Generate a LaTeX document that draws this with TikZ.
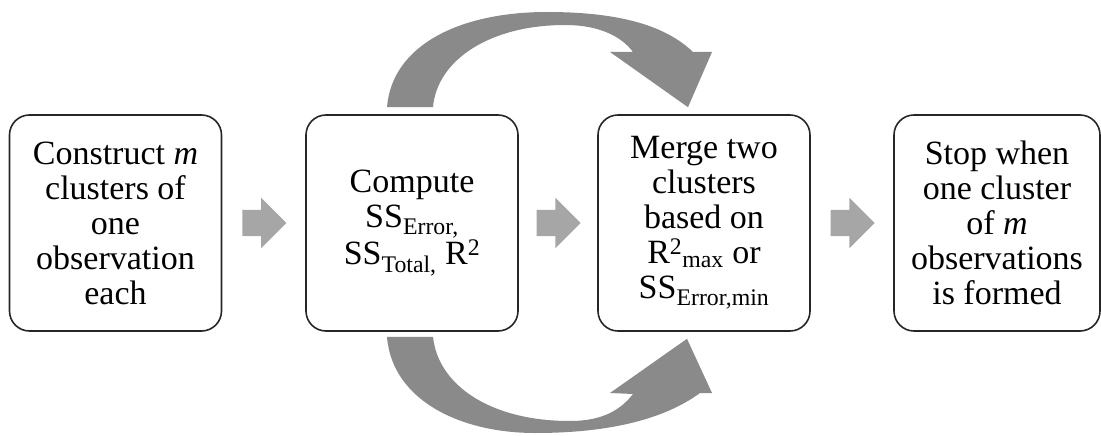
\documentclass[tikz,border=0pt]{standalone}
\usepackage{fontspec}
\setmainfont{Liberation Serif}
\usepackage{tikz}
\usetikzlibrary{shapes.arrows,calc}

\begin{document}
\begin{tikzpicture}[x=1pt, y=-1pt,
    stepbox/.style={draw=black!85, line width=1.6pt, rounded corners=20pt,
        minimum width=212pt, minimum height=216pt, inner sep=0pt,
        align=center, font=\fontsize{34}{35}\selectfont},
    blockarrow/.style={single arrow, fill=black!35, draw=none, inner sep=0pt,
        text height=13pt, text depth=13pt, text width=0pt, xshift=-6pt,
        minimum height=44pt, single arrow head extend=12pt},
    loopband/.style={fill=black!46, draw=none}]

    \useasboundingbox (0,0) rectangle (1101,436);

    \node[stepbox] (construct) at (115.5,223) {Construct \textit{m}\\clusters of\\one\\observation\\each};
    \node[stepbox] (compute) at (412,223) {Compute\\SS\textsubscript{Error,}\\SS\textsubscript{Total,} R\textsuperscript{2}};
    \node[stepbox] (merge) at (704,223) {Merge two\\clusters\\based on\\R\textsuperscript{2}\textsubscript{max} or\\SS\textsubscript{Error,min}};
    \node[stepbox, minimum width=206pt] (stop) at (997,223) {Stop when\\one cluster\\of \textit{m}\\observations\\is formed};

    \node[blockarrow] (a1) at ($(construct.east)!0.5!(compute.west)$) {};
    \node[blockarrow] (a2) at ($(compute.east)!0.5!(merge.west)$) {};
    \node[blockarrow] (a3) at ($(merge.east)!0.5!(stop.west)$) {};

    % loop over the top
    \fill[loopband] ($(compute.north)+(-25,-7)$) .. controls (392,45) and (460,12) .. (547,12)
        .. controls (630,12) and (670,30) .. (693,52) -- (712,52) -- ($(merge.north)+(-16,-7)$)
        -- (610,52) -- (633,52) .. controls (622,37) and (600,25) .. (565,25)
        .. controls (490,25) and (437,60) .. ($(compute.north)+(21,-7)$) -- cycle;

    % loop under the bottom
    \fill[loopband] ($(compute.south)+(-25,5)$) .. controls (392,400) and (460,433) .. (535,433)
        .. controls (620,433) and (670,415) .. (700,393) -- (712,393) -- ($(merge.south)+(-17,7)$)
        -- (610,393) -- (633,394) .. controls (622,408) and (605,421) .. (570,421)
        .. controls (490,421) and (438,385) .. ($(compute.south)+(21,5)$) -- cycle;

\end{tikzpicture}
\end{document}
